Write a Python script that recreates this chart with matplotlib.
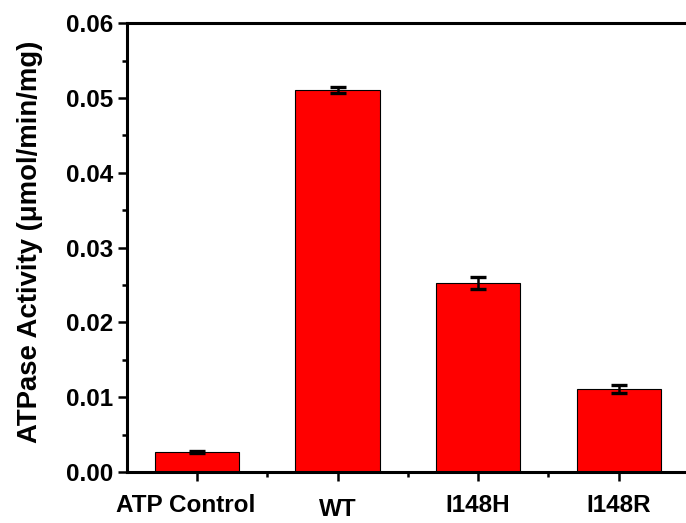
import numpy as np
import matplotlib
matplotlib.use("Agg")
import matplotlib.pyplot as plt
from matplotlib.transforms import ScaledTranslation
from matplotlib.ticker import MultipleLocator, FixedLocator

categories = ['ATP Control', 'WT', 'I148H', 'I148R']
values = [0.0027, 0.0511, 0.0253, 0.0111]
errors = [0.0001, 0.0004, 0.0008, 0.00055]
ytick_values = [0.00, 0.01, 0.02, 0.03, 0.04, 0.05, 0.06]
ytick_labels = ['0.00', '0.01', '0.02', '0.03', '0.04', '0.05', '0.06']
ylabel = 'ATPase Activity (\u03bcmol/min/mg)'

plt.rcParams['font.family'] = ['Liberation Sans', 'DejaVu Sans']
plt.rcParams['font.weight'] = 'bold'

fig = plt.figure(figsize=(6.86, 5.23), dpi=100)
ax = fig.add_axes([0.1847, 0.0975, 0.8197, 0.858])

x = np.arange(len(categories))
ax.bar(x, values, width=0.6, color='#FF0000', edgecolor='black', linewidth=0.8, zorder=2)
ax.errorbar(x, values, yerr=errors, fmt='none', ecolor='black', elinewidth=1.8,
            capsize=5.5, capthick=2.4, zorder=3)

ax.set_xlim(-0.5, 3.5)
ax.set_ylim(0, 0.06)

ax.set_xticks(x)
ax.set_xticklabels(categories, fontsize=17.5, fontweight='bold')
ax.xaxis.set_minor_locator(FixedLocator([0.5, 1.5, 2.5, 3.5]))
ax.set_yticks(ytick_values)
ax.set_yticklabels(ytick_labels, fontsize=17.5, fontweight='bold')
ax.yaxis.set_minor_locator(MultipleLocator(0.005))

ax.tick_params(axis='both', which='major', direction='out', length=6.5, width=1.8)
ax.tick_params(axis='both', which='minor', direction='out', length=3.5, width=1.8)
ax.tick_params(axis='x', which='major', pad=9)
ax.tick_params(axis='y', which='major', pad=3)

for s in ['left', 'bottom', 'top']:
    ax.spines[s].set_linewidth(2.2)
ax.spines['right'].set_visible(False)

ax.set_ylabel(ylabel, fontsize=19.8, fontweight='bold')
ax.yaxis.set_label_coords(-0.148, 0.513)

# Small manual label offsets seen in the reference
for lab in ax.get_xticklabels():
    if lab.get_text() == 'WT':
        lab.set_transform(lab.get_transform() + ScaledTranslation(0, -3 / 72, fig.dpi_scale_trans))
    elif lab.get_text() == 'ATP Control':
        lab.set_transform(lab.get_transform() + ScaledTranslation(-8 / 72, 0, fig.dpi_scale_trans))

fig.savefig('out.png', dpi=100)
